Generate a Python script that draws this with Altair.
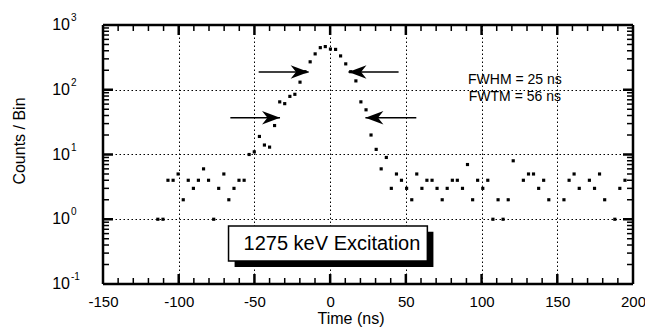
import altair as alt
import pandas as pd

# ---- data ----
time_ns = [-113.8, -110.4, -107.1, -103.7, -100.4, -97.0, -93.7, -90.3, -87.0, -83.6,
           -80.3, -76.9, -73.6, -70.2, -66.9, -63.5, -60.2, -56.8, -53.5, -50.1,
           -46.7, -43.4, -40.0, -36.7, -33.3, -30.0, -26.6, -23.3, -19.9, -16.6,
           -13.2, -9.9, -6.5, -3.2, 0.2, 3.6, 6.9, 10.3, 13.6, 17.0,
           20.3, 23.7, 27.0, 30.4, 33.7, 37.1, 40.4, 43.8, 47.1, 50.5,
           53.9, 57.2, 60.6, 63.9, 67.3, 70.6, 74.0, 77.3, 80.7, 84.0,
           87.4, 90.7, 94.1, 97.4, 100.8, 104.1, 107.5, 110.9, 114.2, 117.6,
           120.9, 127.6, 131.0, 134.3, 137.7, 141.0, 144.4, 154.4, 157.8, 161.1,
           164.5, 171.2, 174.6, 177.9, 181.3, 188.0, 191.3, 194.7]
counts = [1, 1, 4, 4, 5, 2, 4, 3, 4, 6,
          4, 1, 3, 5, 2, 3, 4, 4, 10, 11,
          19, 14, 13, 28, 65, 61, 79, 85, 131, 190,
          270, 358, 447, 464, 425, 420, 333, 251, 190, 137,
          65, 49, 20, 12, 6, 9, 3, 5, 4, 3,
          2, 5, 3, 4, 4, 3, 2, 3, 4, 4,
          3, 7, 2, 4, 3, 4, 1, 2, 1, 2,
          8, 4, 5, 5, 3, 4, 2, 2, 4, 5,
          3, 4, 3, 5, 2, 1, 3, 4]

x_tick_labels = [-150, -100, -50, 0, 50, 100, 150, 200]
x_minor_ticks = [-140, -130, -120, -110, -90, -80, -70, -60, -40, -30, -20, -10,
                 10, 20, 30, 40, 60, 70, 80, 90, 110, 120, 130, 140, 160, 170, 180, 190]
x_major_ticks = [-100, -50, 0, 50, 100, 150]
y_decades = [0.1, 1, 10, 100, 1000]
y_exponents = ["-1", "0", "1", "2", "3"]
y_major_ticks = [1, 10, 100]
y_minor_ticks = [m * d for d in [0.1, 1, 10, 100] for m in range(2, 10)]

fwhm_lines = ["FWHM = 25 ns", "FWTM = 56 ns"]
box_label = "1275 keV Excitation"

# annotation placement (data coordinates)
arrows_right = pd.DataFrame({"tail": [-47.2, -65.9], "tip": [-14.2, -33.1], "y": [188, 37]})
arrows_left = pd.DataFrame({"tail": [45.2, 56.9], "tip": [12.1, 23.3], "y": [188, 37]})
fw_text = pd.DataFrame({"t": fwhm_lines, "x": [122, 122], "y": [140, 78]})
box = pd.DataFrame({"x1": [-67.1], "x2": [64.2], "y1": [0.79], "y2": [0.227]})
shadow = pd.DataFrame({"x1": [-63.1], "x2": [68.2], "y1": [0.64], "y2": [0.183]})
box_text = pd.DataFrame({"t": [box_label], "x": [1.2], "y": [0.41]})

W, H = 530, 259
FONT = "Liberation Sans"

xs = alt.Scale(domain=[-150, 200], nice=False, zero=False)
ys = alt.Scale(type="log", domain=[0.1, 1000], nice=False)

df = pd.DataFrame({"t": time_ns, "c": counts})

x_axis = alt.Axis(values=x_tick_labels, grid=True, gridColor="black", gridDash=[1.5, 2.5],
                  gridWidth=1, gridOpacity=1, domain=False, ticks=False,
                  labelFontSize=15, labelColor="black", labelFont=FONT, labelPadding=10,
                  labelFlush=False, labelOverlap=False, title=None,
                  labelExpr="datum.value + ''")
y_axis = alt.Axis(values=y_decades, grid=True, gridColor="black", gridDash=[1.5, 2.5],
                  gridWidth=1, gridOpacity=1, domain=False, ticks=False, labels=False,
                  title=None)


def X(field):
    return alt.X(field, type="quantitative", scale=xs, axis=x_axis)


def Y(field):
    return alt.Y(field, type="quantitative", scale=ys, axis=y_axis)


points = alt.Chart(df).mark_square(size=10, color="black", opacity=1).encode(
    x=X("t"), y=Y("c"))

# arrows
ar_line = alt.Chart(arrows_right).mark_rule(color="black", strokeWidth=1.5).encode(
    x=X("tail"), x2="tip:Q", y=Y("y"))
al_line = alt.Chart(arrows_left).mark_rule(color="black", strokeWidth=1.5).encode(
    x=X("tail"), x2="tip:Q", y=Y("y"))
ar_head = alt.Chart(arrows_right).mark_point(
    shape="M0,0 L-2,-0.75 L-1.4,0 L-2,0.75 Z", filled=True, size=324, color="black",
    opacity=1, strokeWidth=0).encode(x=X("tip"), y=Y("y"))
al_head = alt.Chart(arrows_left).mark_point(
    shape="M0,0 L2,-0.75 L1.4,0 L2,0.75 Z", filled=True, size=324, color="black",
    opacity=1, strokeWidth=0).encode(x=X("tip"), y=Y("y"))

fw = alt.Chart(fw_text).mark_text(fontSize=14, font=FONT, color="black", baseline="middle").encode(
    x=X("x"), y=Y("y"), text="t:N")

sh = alt.Chart(shadow).mark_rect(fill="black").encode(
    x=X("x1"), x2="x2:Q", y=Y("y1"), y2="y2:Q")
bx = alt.Chart(box).mark_rect(fill="white", stroke="black", strokeWidth=1.5).encode(
    x=X("x1"), x2="x2:Q", y=Y("y1"), y2="y2:Q")
bt = alt.Chart(box_text).mark_text(fontSize=20, font=FONT, color="black", baseline="middle").encode(
    x=X("x"), y=Y("y"), text="t:N")


# inward ticks
def xticks(vals, length, width):
    d = pd.DataFrame({"v": vals})
    bot = alt.Chart(d).mark_rule(color="black", strokeWidth=width).encode(
        x=X("v"), y=alt.value(H), y2=alt.value(H - length))
    top = alt.Chart(d).mark_rule(color="black", strokeWidth=width).encode(
        x=X("v"), y=alt.value(0), y2=alt.value(length))
    return [bot, top]


def yticks(vals, length, width):
    d = pd.DataFrame({"v": vals})
    lft = alt.Chart(d).mark_rule(color="black", strokeWidth=width).encode(
        y=Y("v"), x=alt.value(0), x2=alt.value(length))
    rgt = alt.Chart(d).mark_rule(color="black", strokeWidth=width).encode(
        y=Y("v"), x=alt.value(W), x2=alt.value(W - length))
    return [lft, rgt]


ticks = (xticks(x_minor_ticks, 6, 1.5) + xticks(x_major_ticks, 10, 2.5)
         + yticks(y_minor_ticks, 6, 1.5) + yticks(y_major_ticks, 10, 2.5))

# y tick labels with exponents
ylab = pd.DataFrame({"v": y_decades, "e": y_exponents, "b": ["10"] * 5})
ylab_base = alt.Chart(ylab).mark_text(fontSize=16, font=FONT, color="black", align="right",
                                      baseline="middle").encode(
    y=Y("v"), x=alt.value(-33), text="b:N")
ylab_exp = alt.Chart(ylab).mark_text(fontSize=10, font=FONT, color="black", align="left",
                                     baseline="middle", dy=-7).encode(
    y=Y("v"), x=alt.value(-32), text="e:N")

titles = pd.DataFrame({"t": ["Time (ns)"]})
xtitle = alt.Chart(titles).mark_text(fontSize=16, font=FONT, color="black", baseline="middle").encode(
    x=alt.value(248), y=alt.value(294), text="t:N")
ytitles = pd.DataFrame({"t": ["Counts / Bin"]})
ytitle = alt.Chart(ytitles).mark_text(fontSize=16, font=FONT, color="black", baseline="middle",
                                      angle=270).encode(
    x=alt.value(-83), y=alt.value(116), text="t:N")

# plot frame drawn as four rules
fr = pd.DataFrame({"k": [0]})
frame = [
    alt.Chart(fr).mark_rule(color="black", strokeWidth=2.5).encode(
        x=alt.value(0), x2=alt.value(W), y=alt.value(0)),
    alt.Chart(fr).mark_rule(color="black", strokeWidth=2.5).encode(
        x=alt.value(0), x2=alt.value(W), y=alt.value(H)),
    alt.Chart(fr).mark_rule(color="black", strokeWidth=2.5).encode(
        y=alt.value(0), y2=alt.value(H), x=alt.value(0)),
    alt.Chart(fr).mark_rule(color="black", strokeWidth=2.5).encode(
        y=alt.value(0), y2=alt.value(H), x=alt.value(W)),
]

chart = alt.layer(
    points, ar_line, al_line, ar_head, al_head, fw, sh, bx, bt, *ticks,
    ylab_base, ylab_exp, xtitle, ytitle, *frame
).properties(
    width=W, height=H,
    autosize=alt.AutoSizeParams(type="none"),
    padding={"left": 95, "top": 17, "right": 12, "bottom": 48},
).configure(font=FONT, background="white").configure_view(stroke=None)

chart.save("out.html", embed_options={"renderer": "svg", "actions": False})
